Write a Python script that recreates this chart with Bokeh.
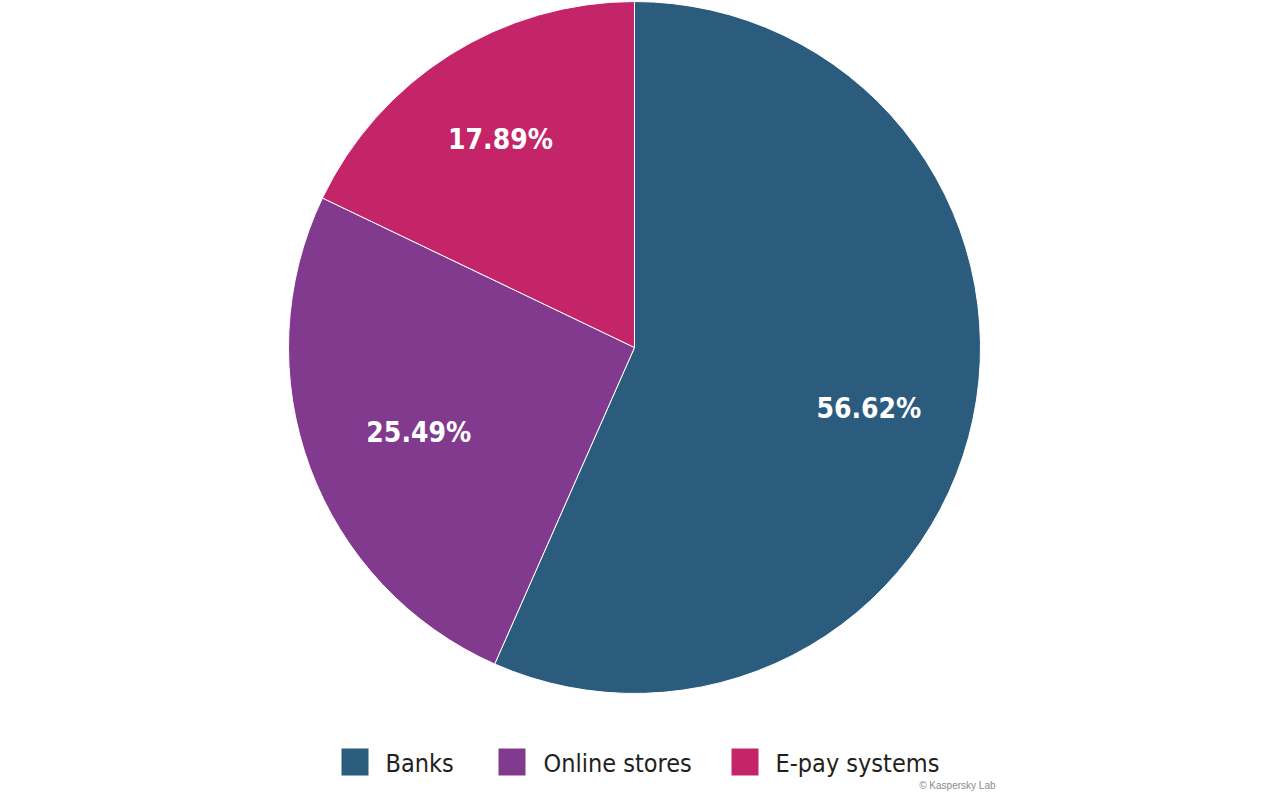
import math
from bokeh.plotting import figure
from bokeh.models import ColumnDataSource, Range1d
from bokeh.core.properties import value
from bokeh.embed import file_html
from bokeh.resources import INLINE

categories = ["Banks", "Online stores", "E-pay systems"]
shares = [56.62, 25.49, 17.89]
colors = ["#2B5C7E", "#823A8F", "#C42568"]
labels = ["56.62%", "25.49%", "17.89%"]

W, H = 1248, 791
FONT = "DejaVu Sans Condensed"

def fx(px):
    return px

def fy(py):
    return H - py

p = figure(width=W, height=H, output_backend="svg", toolbar_location=None,
           x_range=Range1d(0, W), y_range=Range1d(0, H), min_border=0)
p.axis.visible = False
p.grid.visible = False
p.outline_line_color = None
p.background_fill_color = "white"
p.border_fill_color = "white"

cx, cy, r = fx(634), fy(347), 346
total = sum(shares)
starts, ends, lx, ly = [], [], [], []
cum = 0.0
label_r = [0.70, 0.67, 0.715]
label_da = [-2.7, 1.2, 0.6]
for i, s in enumerate(shares):
    a0 = math.pi / 2 - 2 * math.pi * cum / total
    cum += s
    a1 = math.pi / 2 - 2 * math.pi * cum / total
    starts.append(a0)
    ends.append(a1)
    mid = (a0 + a1) / 2 + math.radians(label_da[i])
    lx.append(cx + label_r[i] * r * math.cos(mid))
    ly.append(cy + label_r[i] * r * math.sin(mid))

src = ColumnDataSource(dict(start=starts, end=ends, color=colors, cat=categories))
p.wedge(x=cx, y=cy, radius=r, start_angle="start", end_angle="end",
        direction="clock", fill_color="color", line_color="white", line_width=1,
        source=src)

lsrc = ColumnDataSource(dict(x=lx, y=ly, t=labels))
p.text(x="x", y="y", text="t", source=lsrc, text_color="white",
       text_font=value(FONT), text_font_style="bold", text_font_size="28px",
       text_align="center", text_baseline="middle")

# legend
sq_x = [fx(354.5), fx(511.5), fx(744.5)]
sq_y = fy(761.5)
p.rect(x=sq_x, y=[sq_y] * 3, width=27, height=27, fill_color=colors, line_color=None)
tx = [fx(385), fx(543), fx(775)]
p.text(x=tx, y=[fy(763)] * 3, text=categories, text_color="#231F20",
       text_font=value(FONT), text_font_size="25px",
       text_align="left", text_baseline="middle")

p.text(x=[fx(995)], y=[fy(785)], text=["© Kaspersky Lab"], text_color="#8A8A8A",
       text_font=value("Liberation Sans"), text_font_size="10px",
       text_align="right", text_baseline="middle")

open("out.html", "w").write(file_html(p, INLINE))
